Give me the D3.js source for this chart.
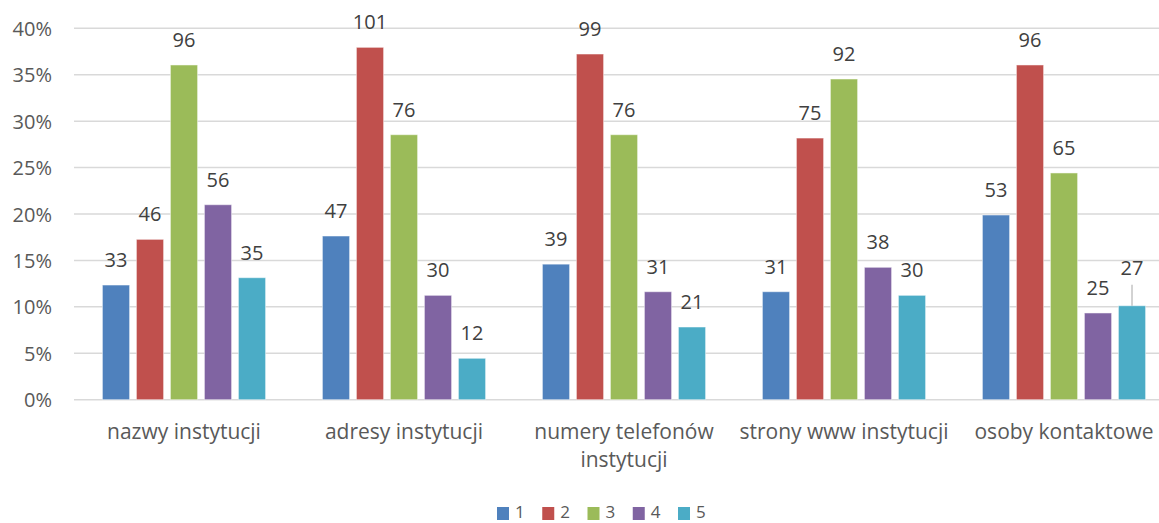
<!DOCTYPE html>
<html>
<head>
<meta charset="utf-8">
<script src="https://cdn.jsdelivr.net/npm/d3@7"></script>
<style>
  html, body { margin: 0; padding: 0; background: #fff; }
  svg { display: block; font-family: "Open Sans", sans-serif; }
</style>
</head>
<body>
<svg id="chart" width="1159" height="523"></svg>
<script>
// ---- data ----
const categories = ["nazwy instytucji", "adresy instytucji", "numery telefonów instytucji", "strony www instytucji", "osoby kontaktowe"];
const seriesNames = ["1", "2", "3", "4", "5"];
// percentage shares (bar heights)
const pct1 = [12.35, 17.63, 14.6, 11.63, 19.89];
const pct2 = [17.27, 37.95, 37.23, 28.18, 36.05];
const pct3 = [36.05, 28.54, 28.54, 34.54, 24.42];
const pct4 = [21.0, 11.24, 11.63, 14.26, 9.34];
const pct5 = [13.14, 4.46, 7.83, 11.24, 10.12];
// counts (data labels)
const cnt1 = [33, 47, 39, 31, 53];
const cnt2 = [46, 101, 99, 75, 96];
const cnt3 = [96, 76, 76, 92, 65];
const cnt4 = [56, 30, 31, 38, 25];
const cnt5 = [35, 12, 21, 30, 27];
const yTicks = [0, 5, 10, 15, 20, 25, 30, 35, 40];
const colors = ["#4F81BD", "#C0504D", "#9BBB59", "#8064A2", "#4BACC6"];

const pcts = [pct1, pct2, pct3, pct4, pct5];
const cnts = [cnt1, cnt2, cnt3, cnt4, cnt5];

// ---- layout ----
const svg = d3.select("#chart");
const plotLeft = 74, plotRight = 1174, plotTop = 28.3, plotBottom = 399.7;

const y = d3.scaleLinear().domain([0, 40]).range([plotBottom, plotTop]);
const x0 = d3.scaleBand().domain(categories).range([plotLeft, plotRight]).padding(0);
const groupHalf = 85;
const x1 = d3.scaleBand().domain(seriesNames)
  .range([x0.bandwidth() / 2 - groupHalf, x0.bandwidth() / 2 + groupHalf])
  .paddingInner(0.2).paddingOuter(0.1);

// gridlines
svg.append("g").selectAll("line").data(yTicks).join("line")
  .attr("x1", plotLeft).attr("x2", 1159)
  .attr("y1", d => y(d)).attr("y2", d => y(d))
  .attr("stroke", "#d9d9d9").attr("stroke-width", 1.5);

// y tick labels
svg.append("g").selectAll("text").data(yTicks).join("text")
  .attr("x", 52).attr("y", d => y(d))
  .attr("text-anchor", "end").attr("dominant-baseline", "central")
  .attr("font-size", 20).attr("fill", "#595959")
  .text(d => d + "%");

// bars
const rows = [];
categories.forEach((c, ci) => {
  seriesNames.forEach((s, si) => {
    rows.push({ c, ci, s, si, p: pcts[si][ci], n: cnts[si][ci] });
  });
});

const gBars = svg.append("g");
gBars.selectAll("rect").data(rows).join("rect")
  .attr("x", d => x0(d.c) + x1(d.s))
  .attr("width", x1.bandwidth())
  .attr("y", d => y(d.p))
  .attr("height", d => y(0) - y(d.p))
  .attr("fill", d => colors[d.si])
  .attr("stroke", "#ffffff").attr("stroke-opacity", 0.5).attr("stroke-width", 1);

// data labels; one label moved up by the chart tool, with a leader line
const labelGap = 18;
const moved = { ci: 4, si: 4, dy: 13 };
const isMoved = d => d.ci === moved.ci && d.si === moved.si;
svg.append("g").selectAll("line").data(rows.filter(isMoved)).join("line")
  .attr("x1", d => x0(d.c) + x1(d.s) + x1.bandwidth() / 2)
  .attr("x2", d => x0(d.c) + x1(d.s) + x1.bandwidth() / 2)
  .attr("y1", d => y(d.p) - labelGap - moved.dy + 10)
  .attr("y2", d => y(d.p))
  .attr("stroke", "#a6a6a6").attr("stroke-width", 1);

svg.append("g").selectAll("text").data(rows).join("text")
  .attr("x", d => x0(d.c) + x1(d.s) + x1.bandwidth() / 2)
  .attr("y", d => y(d.p) - labelGap - (isMoved(d) ? moved.dy : 0))
  .attr("text-anchor", "middle")
  .attr("font-size", 20).attr("fill", "#404040")
  .text(d => d.n);

// category labels (wrap to band width)
const catG = svg.append("g");
categories.forEach(c => {
  const cx = x0(c) + x0.bandwidth() / 2;
  const t = catG.append("text")
    .attr("x", cx).attr("y", 439)
    .attr("text-anchor", "middle").attr("font-size", 21).attr("fill", "#595959");
  const words = c.split(" ");
  let line = [];
  let tspan = t.append("tspan").attr("x", cx).attr("dy", 0);
  const maxW = 210;
  words.forEach(w => {
    line.push(w);
    tspan.text(line.join(" "));
    if (tspan.node().getComputedTextLength() > maxW && line.length > 1) {
      line.pop();
      tspan.text(line.join(" "));
      line = [w];
      tspan = t.append("tspan").attr("x", cx).attr("dy", 28).text(w);
    }
  });
});

// legend
const legendX = d3.scalePoint().domain(seriesNames).range([497, 678]);
const lg = svg.append("g").selectAll("g").data(seriesNames).join("g")
  .attr("transform", d => `translate(${legendX(d)},0)`);
lg.append("rect").attr("x", 0).attr("y", 507).attr("width", 12).attr("height", 13)
  .attr("fill", (d, i) => colors[i]);
lg.append("text").attr("x", 18).attr("y", 518)
  .attr("font-size", 17).attr("fill", "#595959").text(d => d);
</script>
</body>
</html>
